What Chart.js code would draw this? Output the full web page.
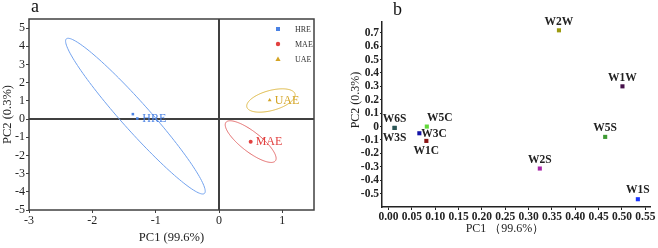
<!DOCTYPE html>
<html>
<head>
<meta charset="utf-8">
<script src="https://cdn.jsdelivr.net/npm/chart.js@4/dist/chart.umd.min.js"></script>
<style>
  html, body { margin: 0; padding: 0; background: #fff; }
  #wrap { position: relative; width: 658px; height: 248px; }
  .panel { position: absolute; top: 0; height: 248px; }
  #pa { left: 0; width: 330px; }
  #pb { left: 330px; width: 328px; }
</style>
</head>
<body>
<div id="wrap">
  <div class="panel" id="pa"><canvas id="chartA" width="330" height="248"></canvas></div>
  <div class="panel" id="pb"><canvas id="chartB" width="328" height="248"></canvas></div>
</div>
<script>
// ---------- panel a : extraction methods ----------
const groupNames = ['HRE', 'MAE', 'UAE'];
const hreX = [-1.36, -1.29];
const hreY = [0.27, 0.03];
const maeX = [0.50];
const maeY = [-1.25];
const uaeX = [0.80];
const uaeY = [1.04];
// confidence ellipses: centre, half major axis vector, half minor axis vector (data units)
const ellCX = [-1.32, 0.50, 0.82];
const ellCY = [0.16, -1.24, 1.02];
const ellMajor = [[-1.09, 4.25], [0.39, -1.06], [0.38, 0.36]];
const ellMinor = [[0.165, 0.51], [0.097, 0.434], [0.041, -0.531]];
const xTicksA = [-3, -2, -1, 0, 1];
const yTicksA = [-5, -4, -3, -2, -1, 0, 1, 2, 3, 4, 5];

// ---------- panel b : samples ----------
const sampleNames = ['W6S', 'W3S', 'W5C', 'W3C', 'W1C', 'W2S', 'W2W', 'W5S', 'W1W', 'W1S'];
const pc1 = [0.013, 0.013, 0.082, 0.066, 0.081, 0.324, 0.365, 0.464, 0.501, 0.534];
const pc2 = [-0.01, -0.01, 0.00, -0.05, -0.107, -0.313, 0.718, -0.077, 0.30, -0.542];
const xTicksB = [0, 0.05, 0.10, 0.15, 0.20, 0.25, 0.30, 0.35, 0.40, 0.45, 0.50, 0.55];
const yTicksB = [-0.5, -0.4, -0.3, -0.2, -0.1, 0, 0.1, 0.2, 0.3, 0.4, 0.5, 0.6, 0.7];

// 配色
const COLORS = {
  axis: '#404040',
  text: '#222',
  groups: ['#4a82e4', '#e2403f', '#d4a424'],
  ellipses: ['#72a2ee', '#e26a6a', '#dcb640'],
  samples: ['#2c5656', '#2c5656', '#62d83a', '#1414a8', '#8a1414', '#a826a8', '#9c9a10', '#3e9a34', '#46104a', '#1a36ff']
};
const SERIF = '"Liberation Serif", "Times New Roman", serif';
Chart.defaults.font.family = SERIF;
Chart.defaults.color = COLORS.text;

function fixedBox(w, h) {
  return function(scale) {
    if (w != null) scale.width = w;
    if (h != null) scale.height = h;
    scale.paddingLeft = scale.paddingRight = scale.paddingTop = scale.paddingBottom = 0;
  };
}
function useTicks(list) {
  return function(scale) { scale.ticks = list.map(v => ({ value: v })); };
}
function toPoints(xs, ys) {
  return xs.map((v, i) => ({ x: v, y: ys[i] }));
}

// ---------- chart a ----------
const panelAPlugin = {
  id: 'panelA',
  beforeDatasetsDraw(chart) {
    const { ctx, chartArea: ca, scales: { x, y } } = chart;
    ctx.save();
    ctx.strokeStyle = COLORS.axis;
    ctx.lineWidth = 2;
    const x0 = x.getPixelForValue(0), y0 = y.getPixelForValue(0);
    ctx.beginPath();
    ctx.moveTo(x0, ca.top); ctx.lineTo(x0, ca.bottom);
    ctx.moveTo(ca.left, y0); ctx.lineTo(ca.right, y0);
    ctx.stroke();
    ctx.lineWidth = 1.5;
    ctx.strokeRect(ca.left, ca.top, ca.width, ca.height);

    ctx.lineWidth = 1;
    groupNames.forEach((g, i) => {
      ctx.strokeStyle = COLORS.ellipses[i];
      ctx.beginPath();
      for (let k = 0; k <= 144; k++) {
        const t = k / 144 * Math.PI * 2;
        const vx = ellCX[i] + ellMajor[i][0] * Math.cos(t) + ellMinor[i][0] * Math.sin(t);
        const vy = ellCY[i] + ellMajor[i][1] * Math.cos(t) + ellMinor[i][1] * Math.sin(t);
        const px = x.getPixelForValue(vx), py = y.getPixelForValue(vy);
        if (k === 0) ctx.moveTo(px, py); else ctx.lineTo(px, py);
      }
      ctx.closePath();
      ctx.stroke();
    });
    ctx.restore();
  },
  afterDatasetsDraw(chart) {
    const { ctx, chartArea: ca } = chart;
    ctx.save();
    // group labels next to the last point of each group
    ctx.font = '12px ' + SERIF;
    ctx.textAlign = 'left';
    ctx.textBaseline = 'middle';
    chart.data.datasets.forEach((ds, i) => {
      const pts = chart.getDatasetMeta(i).data;
      const p = pts[pts.length - 1];
      ctx.fillStyle = COLORS.groups[i];
      ctx.fillText(ds.label, p.x + 5, p.y + 0.5);
    });
    // legend
    ctx.font = '8px ' + SERIF;
    groupNames.forEach((g, i) => {
      const ly = 29 + i * 15, lx = 278;
      ctx.fillStyle = COLORS.groups[i];
      ctx.beginPath();
      if (i === 0) ctx.rect(lx - 2, ly - 2, 4, 4);
      else if (i === 1) ctx.arc(lx, ly, 2.2, 0, Math.PI * 2);
      else { ctx.moveTo(lx, ly - 2.5); ctx.lineTo(lx + 2.6, ly + 2); ctx.lineTo(lx - 2.6, ly + 2); ctx.closePath(); }
      ctx.fill();
      ctx.fillStyle = '#333';
      ctx.fillText(g, 295, ly + 0.5);
    });
    // panel letter
    ctx.fillStyle = '#111';
    ctx.font = '18px ' + SERIF;
    ctx.textBaseline = 'alphabetic';
    ctx.fillText('a', 31, 12);
    ctx.restore();
  }
};

new Chart(document.getElementById('chartA'), {
  type: 'scatter',
  data: {
    datasets: [
      { label: 'HRE', data: toPoints(hreX, hreY), pointStyle: 'rect', radius: 1.8,
        backgroundColor: COLORS.groups[0], borderColor: COLORS.groups[0], borderWidth: 0 },
      { label: 'MAE', data: toPoints(maeX, maeY), pointStyle: 'circle', radius: 2,
        backgroundColor: COLORS.groups[1], borderColor: COLORS.groups[1], borderWidth: 0 },
      { label: 'UAE', data: toPoints(uaeX, uaeY), pointStyle: 'triangle', radius: 2.2,
        backgroundColor: COLORS.groups[2], borderColor: COLORS.groups[2], borderWidth: 0 }
    ]
  },
  options: {
    responsive: false,
    animation: false,
    layout: { padding: { left: 0, top: 19, right: 16, bottom: 0 } },
    plugins: { legend: { display: false }, tooltip: { enabled: false } },
    scales: {
      x: {
        min: -3, max: 1.5,
        afterFit: fixedBox(null, 38),
        afterBuildTicks: useTicks(xTicksA),
        border: { display: false },
        grid: { drawOnChartArea: false, tickLength: 3, color: COLORS.axis, lineWidth: 1 },
        ticks: { font: { size: 12 }, padding: 1, maxRotation: 0, autoSkip: false, color: COLORS.text },
        title: { display: true, text: 'PC1 (99.6%)', font: { size: 12.5 }, padding: { top: 0, bottom: 3 }, color: COLORS.text }
      },
      y: {
        min: -5, max: 5.5,
        afterFit: fixedBox(29, null),
        afterBuildTicks: useTicks(yTicksA),
        border: { display: false },
        grid: { drawOnChartArea: false, tickLength: 3, color: COLORS.axis, lineWidth: 1 },
        ticks: { font: { size: 12 }, padding: 1, autoSkip: false, color: COLORS.text },
        title: { display: true, text: 'PC2 (0.3%)', font: { size: 12.5 }, padding: 0, color: COLORS.text }
      }
    }
  },
  plugins: [panelAPlugin]
});

// ---------- chart b ----------
const labelPlace = { W3S: 'bottom', W1C: 'bottom', W3C: 'right', W5C: 'topright' };

const panelBPlugin = {
  id: 'panelB',
  afterDatasetsDraw(chart) {
    const { ctx, chartArea: ca } = chart;
    const pts = chart.getDatasetMeta(0).data;
    ctx.save();
    ctx.fillStyle = COLORS.text;
    ctx.font = 'bold 11.5px ' + SERIF;
    sampleNames.forEach((name, i) => {
      const p = pts[i];
      const place = labelPlace[name] || 'top';
      if (place === 'top') {
        ctx.textAlign = 'center'; ctx.textBaseline = 'bottom';
        ctx.fillText(name, p.x, p.y - 3);
      } else if (place === 'bottom') {
        ctx.textAlign = 'center'; ctx.textBaseline = 'top';
        ctx.fillText(name, p.x, p.y + 4);
      } else if (place === 'right') {
        ctx.textAlign = 'left'; ctx.textBaseline = 'middle';
        ctx.fillText(name, p.x + 2, p.y + 0.5);
      } else {
        ctx.textAlign = 'center'; ctx.textBaseline = 'bottom';
        ctx.fillText(name, p.x + 13, p.y - 3);
      }
    });
    // axis titles
    ctx.font = '12px ' + SERIF;
    ctx.textAlign = 'center';
    ctx.textBaseline = 'middle';
    ctx.fillText('PC1 （99.6%）', 175, 229);
    ctx.save();
    ctx.translate(26, 100);
    ctx.rotate(-Math.PI / 2);
    ctx.fillText('PC2 (0.3%)', 0, 0);
    ctx.restore();
    // panel letter
    ctx.fillStyle = '#111';
    ctx.font = '18px ' + SERIF;
    ctx.textAlign = 'left';
    ctx.textBaseline = 'alphabetic';
    ctx.fillText('b', 63, 15);
    ctx.restore();
  }
};

new Chart(document.getElementById('chartB'), {
  type: 'scatter',
  data: {
    labels: sampleNames,
    datasets: [{
      data: toPoints(pc1, pc2),
      pointStyle: 'rect',
      radius: 2.9,
      backgroundColor: COLORS.samples,
      borderColor: COLORS.samples,
      borderWidth: 0
    }]
  },
  options: {
    responsive: false,
    animation: false,
    layout: { padding: { left: 0, top: 22, right: 8, bottom: 0 } },
    plugins: { legend: { display: false }, tooltip: { enabled: false } },
    scales: {
      x: {
        min: -0.014, max: 0.56,
        afterFit: fixedBox(null, 41),
        afterBuildTicks: useTicks(xTicksB),
        border: { display: true, color: '#222', width: 1.5 },
        grid: { drawOnChartArea: false, tickLength: 3, color: '#222', lineWidth: 1 },
        ticks: { font: { size: 11.5, weight: 'bold' }, padding: 0, maxRotation: 0, autoSkip: false,
                 color: COLORS.text, callback: v => v.toFixed(2) }
      },
      y: {
        min: -0.6, max: 0.78,
        afterFit: fixedBox(52, null),
        afterBuildTicks: useTicks(yTicksB),
        border: { display: true, color: '#222', width: 1.5 },
        grid: { drawOnChartArea: false, tickLength: 2, color: '#222', lineWidth: 1 },
        ticks: { font: { size: 11.5, weight: 'bold' }, padding: 1, autoSkip: false, color: COLORS.text,
                 callback: v => (Math.abs(v) < 1e-9 ? '0' : String(Math.round(v * 10) / 10)) }
      }
    }
  },
  plugins: [panelBPlugin]
});
</script>
</body>
</html>
